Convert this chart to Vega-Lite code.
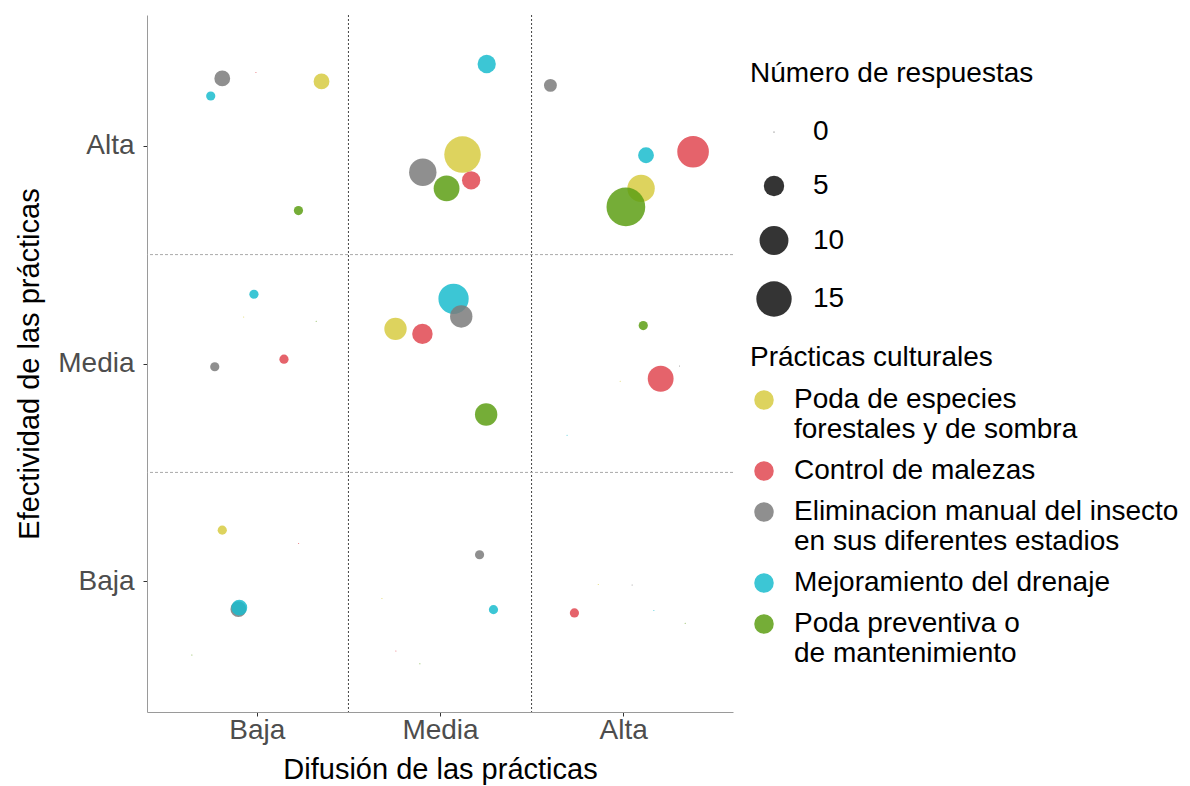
{
  "$schema": "https://vega.github.io/schema/vega-lite/v6.json",
  "width": 586,
  "height": 697,
  "autosize": {"type": "none"},
  "padding": {"left": 147, "top": 15, "right": 457, "bottom": 74},
  "background": "white",
  "config": {
    "font": "Liberation Sans",
    "view": {"stroke": null},
    "style": {"guide-label": {"lineHeight": 30}},
    "axis": {
      "grid": false,
      "domainColor": "#9a9a9a",
      "tickColor": "#333333",
      "tickSize": 4,
      "labelFontSize": 28,
      "labelColor": "#4d4d4d",
      "labelPadding": 5,
      "titleFontSize": 29,
      "titleFontWeight": "normal",
      "titleColor": "#000000"
    },
    "legend": {
      "titleFontSize": 28,
      "titleFontWeight": "normal",
      "titleColor": "#000000",
      "titleLimit": 0,
      "labelFontSize": 28,
      "labelColor": "#000000",
      "labelLimit": 0,
      "padding": 0,
      "titlePadding": 18
    }
  },
  "datasets": {
    "vlines": [{"pos": 1.5}, {"pos": 2.5}],
    "hlines": [{"pos": 1.5}, {"pos": 2.5}],
    "puntos": [
      {"difusion": 0.811, "efectividad": 3.309, "practica": "Eliminacion manual del insecto en sus diferentes estadios", "n": 3},
      {"difusion": 0.748, "efectividad": 3.228, "practica": "Mejoramiento del drenaje", "n": 1},
      {"difusion": 0.995, "efectividad": 3.336, "practica": "Control de malezas", "n": 0},
      {"difusion": 1.353, "efectividad": 3.295, "practica": "Poda de especies forestales y de sombra", "n": 3},
      {"difusion": 1.227, "efectividad": 2.702, "practica": "Poda preventiva o de mantenimiento", "n": 1},
      {"difusion": 2.123, "efectividad": 2.959, "practica": "Poda de especies forestales y de sombra", "n": 16},
      {"difusion": 1.906, "efectividad": 2.878, "practica": "Eliminacion manual del insecto en sus diferentes estadios", "n": 9},
      {"difusion": 2.036, "efectividad": 2.804, "practica": "Poda preventiva o de mantenimiento", "n": 8},
      {"difusion": 2.170, "efectividad": 2.841, "practica": "Control de malezas", "n": 4},
      {"difusion": 2.255, "efectividad": 3.375, "practica": "Mejoramiento del drenaje", "n": 4},
      {"difusion": 2.603, "efectividad": 3.277, "practica": "Eliminacion manual del insecto en sus diferentes estadios", "n": 2},
      {"difusion": 3.125, "efectividad": 2.956, "practica": "Mejoramiento del drenaje", "n": 3},
      {"difusion": 3.382, "efectividad": 2.972, "practica": "Control de malezas", "n": 12},
      {"difusion": 3.098, "efectividad": 2.804, "practica": "Poda de especies forestales y de sombra", "n": 9},
      {"difusion": 3.015, "efectividad": 2.719, "practica": "Poda preventiva o de mantenimiento", "n": 18},
      {"difusion": 0.984, "efectividad": 2.318, "practica": "Mejoramiento del drenaje", "n": 1},
      {"difusion": 0.928, "efectividad": 2.214, "practica": "Poda de especies forestales y de sombra", "n": 0},
      {"difusion": 1.324, "efectividad": 2.194, "practica": "Poda preventiva o de mantenimiento", "n": 0},
      {"difusion": 1.148, "efectividad": 2.020, "practica": "Control de malezas", "n": 1},
      {"difusion": 0.770, "efectividad": 1.985, "practica": "Eliminacion manual del insecto en sus diferentes estadios", "n": 1},
      {"difusion": 2.074, "efectividad": 2.297, "practica": "Mejoramiento del drenaje", "n": 11},
      {"difusion": 2.116, "efectividad": 2.216, "practica": "Eliminacion manual del insecto en sus diferentes estadios", "n": 6},
      {"difusion": 1.757, "efectividad": 2.159, "practica": "Poda de especies forestales y de sombra", "n": 6},
      {"difusion": 1.904, "efectividad": 2.136, "practica": "Control de malezas", "n": 5},
      {"difusion": 2.252, "efectividad": 1.766, "practica": "Poda preventiva o de mantenimiento", "n": 6},
      {"difusion": 3.110, "efectividad": 2.174, "practica": "Poda preventiva o de mantenimiento", "n": 1},
      {"difusion": 3.205, "efectividad": 1.930, "practica": "Control de malezas", "n": 8},
      {"difusion": 2.984, "efectividad": 1.919, "practica": "Poda de especies forestales y de sombra", "n": 0},
      {"difusion": 3.308, "efectividad": 1.988, "practica": "Eliminacion manual del insecto en sus diferentes estadios", "n": 0},
      {"difusion": 2.694, "efectividad": 1.671, "practica": "Mejoramiento del drenaje", "n": 0},
      {"difusion": 0.811, "efectividad": 1.235, "practica": "Poda de especies forestales y de sombra", "n": 1},
      {"difusion": 1.228, "efectividad": 1.174, "practica": "Control de malezas", "n": 0},
      {"difusion": 0.899, "efectividad": 0.872, "practica": "Eliminacion manual del insecto en sus diferentes estadios", "n": 3},
      {"difusion": 0.904, "efectividad": 0.879, "practica": "Mejoramiento del drenaje", "n": 3},
      {"difusion": 0.645, "efectividad": 0.662, "practica": "Poda preventiva o de mantenimiento", "n": 0},
      {"difusion": 2.216, "efectividad": 1.122, "practica": "Eliminacion manual del insecto en sus diferentes estadios", "n": 1},
      {"difusion": 2.292, "efectividad": 0.870, "practica": "Mejoramiento del drenaje", "n": 1},
      {"difusion": 1.683, "efectividad": 0.921, "practica": "Poda de especies forestales y de sombra", "n": 0},
      {"difusion": 1.759, "efectividad": 0.680, "practica": "Control de malezas", "n": 0},
      {"difusion": 1.890, "efectividad": 0.621, "practica": "Poda preventiva o de mantenimiento", "n": 0},
      {"difusion": 2.734, "efectividad": 0.855, "practica": "Control de malezas", "n": 1},
      {"difusion": 2.864, "efectividad": 0.985, "practica": "Poda de especies forestales y de sombra", "n": 0},
      {"difusion": 3.049, "efectividad": 0.983, "practica": "Eliminacion manual del insecto en sus diferentes estadios", "n": 0},
      {"difusion": 3.168, "efectividad": 0.866, "practica": "Mejoramiento del drenaje", "n": 0},
      {"difusion": 3.339, "efectividad": 0.807, "practica": "Poda preventiva o de mantenimiento", "n": 0}
    ]
  },
  "layer": [
    {
      "data": {"name": "vlines"},
      "mark": {"type": "rule", "color": "#444444", "strokeDash": [2, 2], "strokeWidth": 1},
      "encoding": {
        "x": {"field": "pos", "type": "quantitative", "title": "Difusión de las prácticas", "scale": {"domain": [0.4, 3.6], "nice": false, "zero": false}}
      }
    },
    {
      "data": {"name": "hlines"},
      "mark": {"type": "rule", "color": "#aaaaaa", "strokeDash": [3, 2], "strokeWidth": 1},
      "encoding": {
        "y": {"field": "pos", "type": "quantitative", "title": "Efectividad de las prácticas", "scale": {"domain": [0.4, 3.6], "nice": false, "zero": false}}
      }
    },
    {
      "data": {"name": "puntos"},
      "mark": {"type": "circle", "opacity": 0.85},
      "encoding": {
        "x": {
          "field": "difusion", "type": "quantitative", "title": "Difusión de las prácticas",
          "scale": {"domain": [0.4, 3.6], "nice": false, "zero": false},
          "axis": {"values": [1, 2, 3], "labelExpr": "datum.value == 1 ? 'Baja' : datum.value == 2 ? 'Media' : 'Alta'", "labelPadding": 0, "titlePadding": 11}
        },
        "y": {
          "field": "efectividad", "type": "quantitative", "title": "Efectividad de las prácticas",
          "scale": {"domain": [0.4, 3.6], "nice": false, "zero": false},
          "axis": {"values": [1, 2, 3], "labelExpr": "datum.value == 1 ? 'Baja' : datum.value == 2 ? 'Media' : 'Alta'", "labelPadding": 9, "titlePadding": 13}
        },
        "size": {
          "field": "n", "type": "quantitative",
          "scale": {"domain": [0, 15], "range": [1, 1250]},
          "legend": {"title": "Número de respuestas", "values": [0, 5, 10, 15], "orient": "none", "legendX": 603, "legendY": 45, "symbolFillColor": "#111111", "symbolStrokeColor": "#111111", "symbolStrokeWidth": 0, "symbolType": "circle", "labelOffset": 21, "rowPadding": 26, "titlePadding": 30, "symbolOffset": 6}
        },
        "color": {
          "field": "practica", "type": "nominal",
          "scale": {
            "domain": ["Poda de especies forestales y de sombra", "Control de malezas", "Eliminacion manual del insecto en sus diferentes estadios", "Mejoramiento del drenaje", "Poda preventiva o de mantenimiento"],
            "range": ["#d7cb42", "#e04851", "#7b7b7b", "#1abcce", "#5d9f14"]
          },
          "legend": {
            "title": "Prácticas culturales", "orient": "none", "legendX": 603, "legendY": 329,
            "symbolType": "circle", "symbolSize": 380, "labelOffset": 16, "rowPadding": 13, "titlePadding": 14,
            "labelExpr": "datum.label == 'Poda de especies forestales y de sombra' ? ['Poda de especies', 'forestales y de sombra'] : datum.label == 'Eliminacion manual del insecto en sus diferentes estadios' ? ['Eliminacion manual del insecto', 'en sus diferentes estadios'] : datum.label == 'Poda preventiva o de mantenimiento' ? ['Poda preventiva o', 'de mantenimiento'] : datum.label"
          }
        }
      }
    }
  ]
}
